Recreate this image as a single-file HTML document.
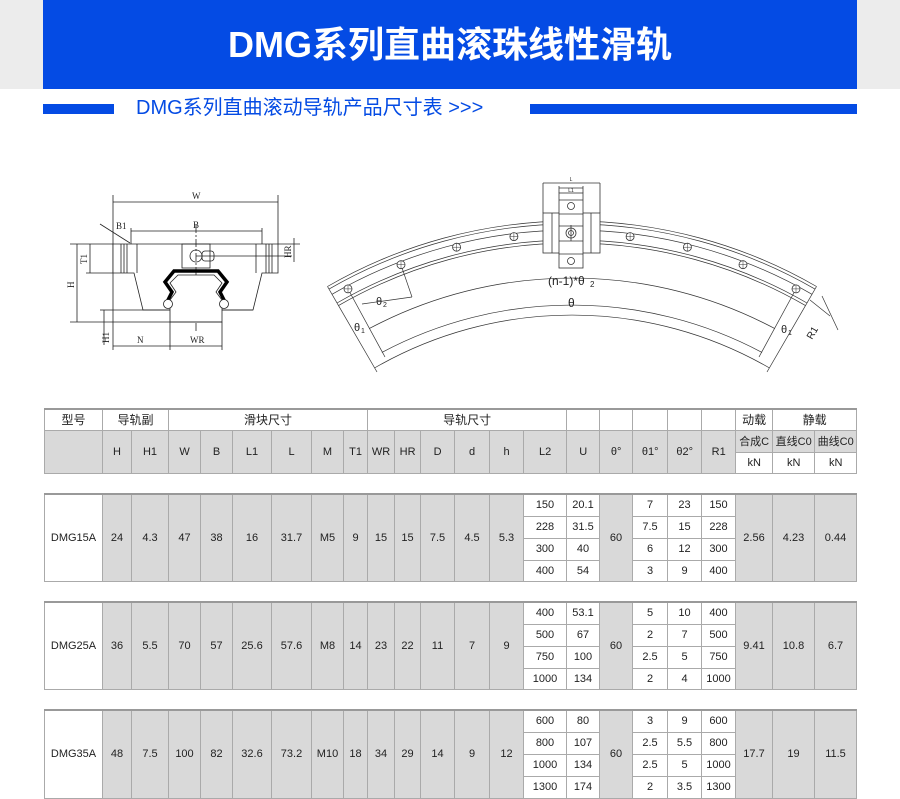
<!DOCTYPE html>
<html><head><meta charset="utf-8">
<style>
*{margin:0;padding:0;box-sizing:border-box}
body{width:900px;height:795px;background:#fff;position:relative;overflow:hidden;font-family:"Liberation Sans","Noto Sans CJK SC",sans-serif}
.topband{position:absolute;left:0;top:0;width:900px;height:89px;background:#ececec}
.blue{position:absolute;left:43px;top:0;width:814px;height:89px;background:#044be4;color:#fff;font-weight:bold;font-size:36px;text-align:center;line-height:90px;letter-spacing:0px;font-family:"Liberation Sans","Noto Sans CJK SC",sans-serif}
.bar{position:absolute;height:10px;top:104px;background:#044be4}
.sub{position:absolute;left:136px;top:95px;font-size:20px;color:#044be4;line-height:26px;white-space:nowrap}
table{position:absolute;left:44px;border-collapse:collapse;table-layout:fixed;width:812px;font-size:11px;color:#222}
td{border:1px solid #aaa;text-align:center;vertical-align:middle;padding:0;background:#d9d9d9;overflow:hidden;white-space:nowrap}
td.w{background:#fff}
table{border-top:2px solid #999}
</style></head><body>
<div class="topband"></div>
<div class="blue">DMG系列直曲滚珠线性滑轨</div>
<div class="bar" style="left:43px;width:71px"></div>
<div class="bar" style="left:530px;width:327px"></div>
<div class="sub">DMG系列直曲滚动导轨产品尺寸表 &gt;&gt;&gt;</div>

<svg style="position:absolute;left:0;top:0" width="900" height="400" viewBox="0 0 900 400" fill="none" stroke="#222" stroke-width="0.8" font-family="Liberation Serif, serif">
<!-- left drawing -->
<line x1="113" y1="202" x2="278" y2="202"/>
<line x1="113" y1="195" x2="113" y2="350"/>
<line x1="278" y1="195" x2="278" y2="244"/>
<text x="192" y="199" font-size="9" fill="#222" stroke="none">W</text>
<line x1="131" y1="231" x2="262" y2="231"/>
<line x1="131" y1="228" x2="131" y2="244"/><line x1="262" y1="228" x2="262" y2="244"/>
<text x="193" y="228" font-size="9" fill="#222" stroke="none">B</text>
<text x="116" y="229" font-size="9" fill="#222" stroke="none">B1</text>
<line x1="100" y1="224" x2="130" y2="243"/>
<path d="M113,244 H278 V273 H262 L253,310 H143 L134,273 H113 Z" fill="#fff"/>
<line x1="121" y1="244" x2="121" y2="273"/><line x1="124" y1="244" x2="124" y2="273"/><line x1="127" y1="244" x2="127" y2="273"/><line x1="137" y1="244" x2="137" y2="273"/>
<line x1="256" y1="244" x2="256" y2="273"/><line x1="266" y1="244" x2="266" y2="273"/><line x1="269" y1="244" x2="269" y2="273"/><line x1="272" y1="244" x2="272" y2="273"/>
<rect x="182" y="244" width="28" height="24"/>
<circle cx="196" cy="256" r="6"/><rect x="202" y="251" width="12" height="10" rx="3"/>
<line x1="196" y1="225" x2="196" y2="332" stroke-dasharray="8 2 2 2"/>
<line x1="196" y1="256" x2="292" y2="256"/>
<path d="M166,304 L172,292 L165,282 L174,271 H218 L227,282 L220,292 L226,304" stroke="#000" stroke-width="3.5"/>
<path d="M170,322 V300 L176,292 L170,283 L178,275 H214 L222,283 L216,292 L222,300 V322 Z" fill="#fff"/>
<circle cx="168" cy="304" r="4.5" fill="#fff"/><circle cx="224" cy="304" r="4.5" fill="#fff"/>
<line x1="113" y1="310" x2="170" y2="310"/><line x1="222" y1="310" x2="253" y2="310"/>
<line x1="170" y1="322" x2="222" y2="322"/>
<line x1="70" y1="244" x2="113" y2="244"/><line x1="70" y1="322" x2="170" y2="322"/>
<line x1="77" y1="244" x2="77" y2="322"/>
<text x="74" y="288" font-size="9" fill="#222" stroke="none" transform="rotate(-90 74 288)">H</text>
<line x1="90" y1="244" x2="90" y2="273"/><line x1="86" y1="273" x2="113" y2="273"/>
<text x="87" y="264" font-size="9" fill="#222" stroke="none" transform="rotate(-90 87 264)">T1</text>
<line x1="100" y1="310" x2="113" y2="310"/>
<line x1="104" y1="310" x2="104" y2="345"/>
<text x="109" y="343" font-size="9" fill="#222" stroke="none" transform="rotate(-90 109 343)">H1</text>
<line x1="278" y1="244" x2="300" y2="244"/><line x1="294" y1="238" x2="294" y2="262"/>
<text x="291" y="258" font-size="9" fill="#222" stroke="none" transform="rotate(-90 291 258)">HR</text>
<line x1="113" y1="346" x2="222" y2="346"/>
<line x1="170" y1="322" x2="170" y2="350"/><line x1="222" y1="322" x2="222" y2="350"/>
<text x="137" y="343" font-size="9" fill="#222" stroke="none">N</text>
<text x="190" y="343" font-size="9" fill="#222" stroke="none">WR</text>

<!-- right drawing -->
<g stroke="#333" stroke-width="0.7">
<path d="M327.5,286.5 A489 489 0 0 1 816.5,286.5"/>
<path d="M329,289.1 A486 486 0 0 1 815,289.1"/>
<path d="M332,294.3 A480 480 0 0 1 812,294.3"/>
<path d="M337,303 A470 470 0 0 1 807,303"/>
<path d="M338.5,305.6 A467 467 0 0 1 805.5,305.6"/>
<line x1="327.5" y1="286.5" x2="338.5" y2="305.6"/>
<line x1="816.5" y1="286.5" x2="805.5" y2="305.6"/>
<path d="M369.2,328.6 A432 432 0 0 1 774.8,328.6"/>
<path d="M381.9,352.4 A405 405 0 0 1 762,352.4"/>
<path d="M374.5,368 A395 395 0 0 1 769.5,368"/>
<line x1="338.5" y1="305.6" x2="377" y2="372"/>
<line x1="805.5" y1="305.6" x2="767" y2="372"/>
<line x1="348" y1="289" x2="385" y2="357"/>
<line x1="796" y1="289" x2="759" y2="357"/>
<line x1="401" y1="265" x2="412" y2="297"/><line x1="362" y1="304" x2="412" y2="297"/>
<line x1="810" y1="300" x2="830" y2="316"/><line x1="822" y1="296" x2="838" y2="330"/>
</g>
<g stroke="#333" stroke-width="0.8" fill="#fff">
<circle cx="348" cy="288.9" r="4"/><circle cx="401" cy="264.7" r="4"/><circle cx="456.6" cy="247.2" r="4"/><circle cx="513.9" cy="236.6" r="4"/>
<circle cx="630.1" cy="236.6" r="4"/><circle cx="687.4" cy="247.2" r="4"/><circle cx="743" cy="264.7" r="4"/><circle cx="796" cy="288.9" r="4"/>
</g>
<g stroke="#333" stroke-width="0.5">
<line x1="344" y1="288.9" x2="352" y2="288.9"/><line x1="348" y1="285" x2="348" y2="293"/>
<line x1="397" y1="264.7" x2="405" y2="264.7"/><line x1="401" y1="260.7" x2="401" y2="268.7"/>
<line x1="452.6" y1="247.2" x2="460.6" y2="247.2"/><line x1="456.6" y1="243.2" x2="456.6" y2="251.2"/>
<line x1="509.9" y1="236.6" x2="517.9" y2="236.6"/><line x1="513.9" y1="232.6" x2="513.9" y2="240.6"/>
<line x1="626.1" y1="236.6" x2="634.1" y2="236.6"/><line x1="630.1" y1="232.6" x2="630.1" y2="240.6"/>
<line x1="683.4" y1="247.2" x2="691.4" y2="247.2"/><line x1="687.4" y1="243.2" x2="687.4" y2="251.2"/>
<line x1="739" y1="264.7" x2="747" y2="264.7"/><line x1="743" y1="260.7" x2="743" y2="268.7"/>
<line x1="792" y1="288.9" x2="800" y2="288.9"/><line x1="796" y1="284.9" x2="796" y2="292.9"/>
</g>
<g stroke="#333" stroke-width="0.8">
<rect x="543" y="213" width="57" height="40" fill="#fff"/>
<line x1="552" y1="213" x2="552" y2="253"/><line x1="591" y1="213" x2="591" y2="253"/>
<line x1="543" y1="183" x2="543" y2="213"/><line x1="600" y1="183" x2="600" y2="213"/>
<line x1="543" y1="183" x2="600" y2="183"/>
<rect x="559" y="193" width="24" height="75" fill="#fff"/>
<line x1="559" y1="200" x2="583" y2="200"/><line x1="559" y1="214" x2="583" y2="214"/>
<line x1="559" y1="226" x2="583" y2="226"/><line x1="559" y1="241" x2="583" y2="241"/>
<line x1="559" y1="254" x2="583" y2="254"/>
<line x1="559" y1="188" x2="583" y2="188"/><line x1="559" y1="186" x2="559" y2="193"/><line x1="583" y1="186" x2="583" y2="193"/>
<circle cx="571" cy="206" r="3.5"/><circle cx="571" cy="233" r="5"/><circle cx="571" cy="233" r="2.5"/><circle cx="571" cy="261" r="3.5"/>
<line x1="571" y1="225" x2="571" y2="241"/>
</g>
<g fill="#222" stroke="none" font-family="Liberation Sans, sans-serif">
<text x="571" y="181" font-size="5" text-anchor="middle">L</text>
<text x="571" y="192" font-size="5" text-anchor="middle">L1</text>
<text x="548" y="285" font-size="12">(n-1)*θ</text><text x="590" y="287" font-size="8">2</text>
<text x="568" y="307" font-size="12">θ</text>
<text x="376" y="305" font-size="11">θ</text><text x="383" y="307" font-size="7">2</text>
<text x="354" y="331" font-size="11">θ</text><text x="361" y="333" font-size="7">1</text>
<text x="781" y="333" font-size="11">θ</text><text x="788" y="335" font-size="7">1</text>
<text x="812" y="340" font-size="10" transform="rotate(-60 812 340)">R1</text>
</g>
</svg>

<table style="top:408px">
<colgroup><col style="width:58px"><col style="width:29px"><col style="width:37px"><col style="width:32px"><col style="width:32px"><col style="width:39px"><col style="width:40px"><col style="width:32px"><col style="width:24px"><col style="width:27px"><col style="width:26px"><col style="width:34px"><col style="width:35px"><col style="width:34px"><col style="width:43px"><col style="width:33px"><col style="width:33px"><col style="width:35px"><col style="width:34px"><col style="width:34px"><col style="width:37px"><col style="width:42px"><col style="width:42px"></colgroup>
<tr style="height:21px;font-size:12px"><td class="w">型号</td><td class="w" colspan="2">导轨副</td><td class="w" colspan="6">滑块尺寸</td><td class="w" colspan="6">导轨尺寸</td><td class="w"></td><td class="w"></td><td class="w"></td><td class="w"></td><td class="w"></td><td class="w">动载</td><td class="w" colspan="2">静载</td></tr>
<tr style="height:22px"><td rowspan="2"></td><td rowspan="2">H</td><td rowspan="2">H1</td><td rowspan="2">W</td><td rowspan="2">B</td><td rowspan="2">L1</td><td rowspan="2">L</td><td rowspan="2">M</td><td rowspan="2">T1</td><td rowspan="2">WR</td><td rowspan="2">HR</td><td rowspan="2">D</td><td rowspan="2">d</td><td rowspan="2">h</td><td rowspan="2">L2</td><td rowspan="2">U</td><td rowspan="2">θ°</td><td rowspan="2">θ1°</td><td rowspan="2">θ2°</td><td rowspan="2">R1</td><td>合成C</td><td>直线C0</td><td>曲线C0</td></tr>
<tr style="height:21px"><td class="w">kN</td><td class="w">kN</td><td class="w">kN</td></tr>
</table>

<table style="top:493px">
<colgroup><col style="width:58px"><col style="width:29px"><col style="width:37px"><col style="width:32px"><col style="width:32px"><col style="width:39px"><col style="width:40px"><col style="width:32px"><col style="width:24px"><col style="width:27px"><col style="width:26px"><col style="width:34px"><col style="width:35px"><col style="width:34px"><col style="width:43px"><col style="width:33px"><col style="width:33px"><col style="width:35px"><col style="width:34px"><col style="width:34px"><col style="width:37px"><col style="width:42px"><col style="width:42px"></colgroup>
<tr style="height:22px"><td class="w" rowspan="4">DMG15A</td><td rowspan="4">24</td><td rowspan="4">4.3</td><td rowspan="4">47</td><td rowspan="4">38</td><td rowspan="4">16</td><td rowspan="4">31.7</td><td rowspan="4">M5</td><td rowspan="4">9</td><td rowspan="4">15</td><td rowspan="4">15</td><td rowspan="4">7.5</td><td rowspan="4">4.5</td><td rowspan="4">5.3</td><td class="w">150</td><td class="w">20.1</td><td rowspan="4">60</td><td class="w">7</td><td class="w">23</td><td class="w">150</td><td rowspan="4">2.56</td><td rowspan="4">4.23</td><td rowspan="4">0.44</td></tr>
<tr style="height:22px"><td class="w">228</td><td class="w">31.5</td><td class="w">7.5</td><td class="w">15</td><td class="w">228</td></tr>
<tr style="height:22px"><td class="w">300</td><td class="w">40</td><td class="w">6</td><td class="w">12</td><td class="w">300</td></tr>
<tr style="height:21px"><td class="w">400</td><td class="w">54</td><td class="w">3</td><td class="w">9</td><td class="w">400</td></tr>
</table>

<table style="top:601px">
<colgroup><col style="width:58px"><col style="width:29px"><col style="width:37px"><col style="width:32px"><col style="width:32px"><col style="width:39px"><col style="width:40px"><col style="width:32px"><col style="width:24px"><col style="width:27px"><col style="width:26px"><col style="width:34px"><col style="width:35px"><col style="width:34px"><col style="width:43px"><col style="width:33px"><col style="width:33px"><col style="width:35px"><col style="width:34px"><col style="width:34px"><col style="width:37px"><col style="width:42px"><col style="width:42px"></colgroup>
<tr style="height:22px"><td class="w" rowspan="4">DMG25A</td><td rowspan="4">36</td><td rowspan="4">5.5</td><td rowspan="4">70</td><td rowspan="4">57</td><td rowspan="4">25.6</td><td rowspan="4">57.6</td><td rowspan="4">M8</td><td rowspan="4">14</td><td rowspan="4">23</td><td rowspan="4">22</td><td rowspan="4">11</td><td rowspan="4">7</td><td rowspan="4">9</td><td class="w">400</td><td class="w">53.1</td><td rowspan="4">60</td><td class="w">5</td><td class="w">10</td><td class="w">400</td><td rowspan="4">9.41</td><td rowspan="4">10.8</td><td rowspan="4">6.7</td></tr>
<tr style="height:22px"><td class="w">500</td><td class="w">67</td><td class="w">2</td><td class="w">7</td><td class="w">500</td></tr>
<tr style="height:22px"><td class="w">750</td><td class="w">100</td><td class="w">2.5</td><td class="w">5</td><td class="w">750</td></tr>
<tr style="height:21px"><td class="w">1000</td><td class="w">134</td><td class="w">2</td><td class="w">4</td><td class="w">1000</td></tr>
</table>

<table style="top:709px">
<colgroup><col style="width:58px"><col style="width:29px"><col style="width:37px"><col style="width:32px"><col style="width:32px"><col style="width:39px"><col style="width:40px"><col style="width:32px"><col style="width:24px"><col style="width:27px"><col style="width:26px"><col style="width:34px"><col style="width:35px"><col style="width:34px"><col style="width:43px"><col style="width:33px"><col style="width:33px"><col style="width:35px"><col style="width:34px"><col style="width:34px"><col style="width:37px"><col style="width:42px"><col style="width:42px"></colgroup>
<tr style="height:22px"><td class="w" rowspan="4">DMG35A</td><td rowspan="4">48</td><td rowspan="4">7.5</td><td rowspan="4">100</td><td rowspan="4">82</td><td rowspan="4">32.6</td><td rowspan="4">73.2</td><td rowspan="4">M10</td><td rowspan="4">18</td><td rowspan="4">34</td><td rowspan="4">29</td><td rowspan="4">14</td><td rowspan="4">9</td><td rowspan="4">12</td><td class="w">600</td><td class="w">80</td><td rowspan="4">60</td><td class="w">3</td><td class="w">9</td><td class="w">600</td><td rowspan="4">17.7</td><td rowspan="4">19</td><td rowspan="4">11.5</td></tr>
<tr style="height:22px"><td class="w">800</td><td class="w">107</td><td class="w">2.5</td><td class="w">5.5</td><td class="w">800</td></tr>
<tr style="height:22px"><td class="w">1000</td><td class="w">134</td><td class="w">2.5</td><td class="w">5</td><td class="w">1000</td></tr>
<tr style="height:22px"><td class="w">1300</td><td class="w">174</td><td class="w">2</td><td class="w">3.5</td><td class="w">1300</td></tr>
</table>
</body></html>
